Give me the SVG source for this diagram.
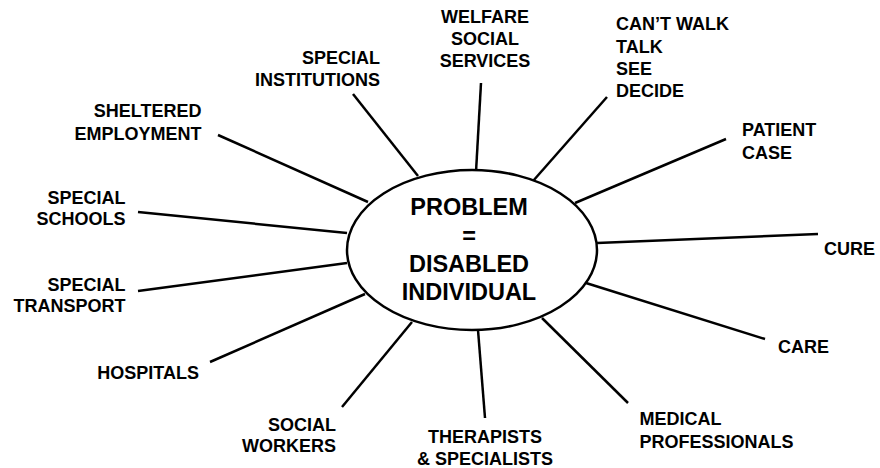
<svg xmlns="http://www.w3.org/2000/svg" width="880" height="468" viewBox="0 0 880 468">
<style>
text{font-family:"Liberation Sans",Arial,sans-serif;font-weight:bold;fill:#000}
.l{font-size:18px}
.c{font-size:23.5px}
.e{text-anchor:end}
.m{text-anchor:middle}
line{stroke:#000;stroke-width:2.5;stroke-linecap:butt}
</style>
<rect width="880" height="468" fill="#fff"/>
<g id="connectors">
<line x1="481" y1="83" x2="476" y2="172"/>
<line x1="607" y1="97" x2="533" y2="181"/>
<line x1="726" y1="139" x2="575" y2="203"/>
<line x1="818" y1="234" x2="597" y2="243"/>
<line x1="765" y1="339" x2="586" y2="283"/>
<line x1="628" y1="403" x2="542" y2="318"/>
<line x1="485" y1="418" x2="478" y2="330"/>
<line x1="342" y1="407" x2="412" y2="322"/>
<line x1="210" y1="362" x2="365" y2="294"/>
<line x1="138" y1="291" x2="347" y2="263"/>
<line x1="138" y1="212" x2="347" y2="233"/>
<line x1="218" y1="135" x2="368" y2="202"/>
<line x1="353" y1="94" x2="418" y2="176"/>
</g>
<g id="center">
<ellipse cx="472" cy="250" rx="125" ry="80" fill="#fff" stroke="#000" stroke-width="2.5"/>
<text class="c m" x="469" y="215">PROBLEM</text>
<text class="c m" x="469" y="244">=</text>
<text class="c m" x="469" y="272">DISABLED</text>
<text class="c m" x="469" y="300">INDIVIDUAL</text>
</g>
<g id="welfare"><text class="l m" x="485" y="23">WELFARE</text><text class="l m" x="485" y="45">SOCIAL</text><text class="l m" x="485" y="67">SERVICES</text></g>
<g id="cant"><text class="l" x="616" y="30">CAN’T WALK</text><text class="l" x="616" y="52.5">TALK</text><text class="l" x="616" y="74.5">SEE</text><text class="l" x="616" y="97">DECIDE</text></g>
<g id="patient"><text class="l" x="742" y="136">PATIENT</text><text class="l" x="742" y="158.5">CASE</text></g>
<g id="cure"><text class="l" x="824" y="255">CURE</text></g>
<g id="care"><text class="l" x="778" y="352.5">CARE</text></g>
<g id="medical"><text class="l" x="639.5" y="425">MEDICAL</text><text class="l" x="639.5" y="447.5">PROFESSIONALS</text></g>
<g id="therapists"><text class="l m" x="485" y="443">THERAPISTS</text><text class="l m" x="485" y="465">&amp; SPECIALISTS</text></g>
<g id="socialworkers"><text class="l e" x="336" y="431">SOCIAL</text><text class="l e" x="336" y="452">WORKERS</text></g>
<g id="hospitals"><text class="l e" x="199" y="379">HOSPITALS</text></g>
<g id="transport"><text class="l e" x="125.5" y="291">SPECIAL</text><text class="l e" x="125.5" y="312">TRANSPORT</text></g>
<g id="schools"><text class="l e" x="125.5" y="203.5">SPECIAL</text><text class="l e" x="125.5" y="225">SCHOOLS</text></g>
<g id="sheltered"><text class="l e" x="201.5" y="117">SHELTERED</text><text class="l e" x="201.5" y="139.5">EMPLOYMENT</text></g>
<g id="institutions"><text class="l e" x="380" y="64">SPECIAL</text><text class="l e" x="380" y="86">INSTITUTIONS</text></g>
</svg>
